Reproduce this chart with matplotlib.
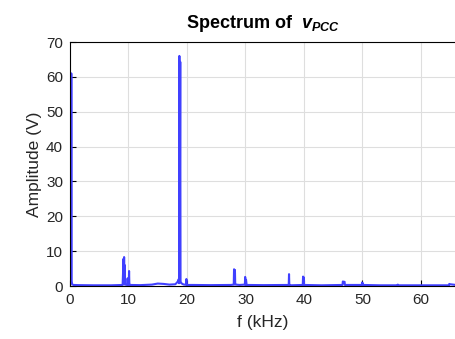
import matplotlib
matplotlib.use("Agg")
import matplotlib.pyplot as plt

plt.rcParams['font.family'] = ['Liberation Sans', 'DejaVu Sans']
plt.rcParams['mathtext.fontset'] = 'custom'
plt.rcParams['mathtext.it'] = 'Liberation Sans:bold:italic'
plt.rcParams['mathtext.rm'] = 'Liberation Sans:bold'
plt.rcParams['mathtext.bf'] = 'Liberation Sans:bold'

# Spectrum samples (frequency in kHz, amplitude in V)
freq_khz = [0.2, 0.22, 0.25, 0.28, 0.35, 0.6, 1.5, 4.0, 7.0, 9.0,
            9.15, 9.2, 9.25, 9.3, 9.35, 9.4, 9.8, 9.85, 9.9, 10.05, 10.1, 10.15, 10.3,
            12.0, 14.0, 15.0, 16.0, 17.0, 18.0, 18.3, 18.5, 18.6,
            18.65, 18.7, 18.75, 18.85, 18.9, 18.95, 19.2, 19.5,
            19.85, 19.9, 19.95, 21.0, 24.0, 27.5, 28.0,
            28.05, 28.1, 28.2, 28.25, 28.3, 29.0, 29.9, 29.95, 30.0, 30.1, 30.2,
            33.0, 37.4, 37.45, 37.5, 37.55, 37.6, 39.8, 39.85, 39.9, 39.95, 40.0,
            43.0, 46.6, 46.65, 46.8, 46.95, 47.0, 49.9, 49.95, 50.0, 50.05, 50.1,
            53.0, 56.0, 56.05, 56.1, 60.0, 64.8, 64.85, 65.0, 65.5, 66.0]
amp_v = [1.0, 61.0, 1.5, 1.0, 0.5, 0.3, 0.25, 0.2, 0.2, 0.3,
         7.8, 0.5, 8.3, 0.6, 6.0, 0.4, 0.3, 2.2, 0.3, 0.4, 4.3, 0.4, 0.3,
         0.25, 0.4, 0.7, 0.6, 0.4, 0.5, 1.0, 1.5, 2.0,
         0.8, 66.0, 1.0, 64.3, 1.5, 1.0, 0.6, 0.4,
         0.4, 2.0, 0.3, 0.3, 0.25, 0.3, 0.4,
         4.8, 0.5, 4.6, 0.5, 0.4, 0.3, 0.4, 2.6, 0.4, 1.8, 0.3,
         0.25, 0.3, 3.4, 0.3, 0.3, 0.2, 0.3, 2.7, 0.3, 2.5, 0.3,
         0.2, 0.3, 1.3, 1.2, 1.2, 0.3, 0.3, 1.0, 0.4, 0.8, 0.3,
         0.2, 0.2, 0.4, 0.2, 0.2, 0.2, 0.6, 0.5, 0.4, 0.3]

x_ticks = [0, 10, 20, 30, 40, 50, 60]
y_ticks = [0, 10, 20, 30, 40, 50, 60, 70]

fig = plt.figure(figsize=(4.55, 3.39), dpi=100)
ax = fig.add_axes([70/455, 53/339, 386/455, 244/339])
ax.plot(freq_khz, amp_v, color=(0.25, 0.25, 1.0), lw=1.5)
ax.set_xlim(0, 66)
ax.set_ylim(0, 70)
ax.set_xticks(x_ticks)
ax.set_yticks(y_ticks)
ax.grid(True, color=(0.87, 0.87, 0.87), lw=0.8)
ax.set_axisbelow(True)
ax.tick_params(direction='in', length=4, width=0.8, labelsize=11,
               labelcolor=(0.15, 0.15, 0.15), color='black', pad=5)
for s in ax.spines.values():
    s.set_linewidth(0.8)
ax.set_xlabel('f (kHz)', fontsize=12.5, color=(0.15, 0.15, 0.15), labelpad=6)
ax.set_ylabel('Amplitude (V)', fontsize=12.5, color=(0.15, 0.15, 0.15), labelpad=3)
ax.set_title(r'Spectrum of  $v_{PCC}$', fontsize=13, fontweight='bold', pad=10)

fig.savefig('out.png', dpi=100)
